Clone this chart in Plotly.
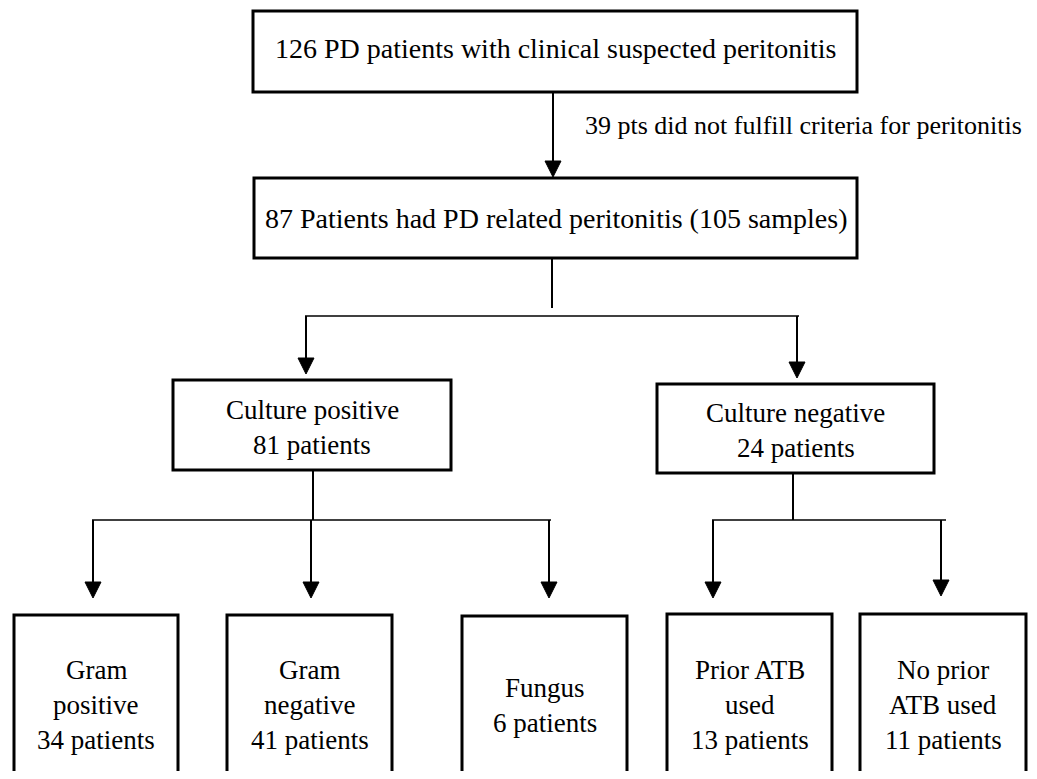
import plotly.graph_objects as go

screened_count = 126
excluded_count = 39
included_patients = 87
included_samples = 105

level2_names = ["Culture positive", "Culture negative"]
level2_counts = [81, 24]

level3_names = [["Gram", "positive"], ["Gram", "negative"], ["Fungus"],
                ["Prior ATB", "used"], ["No prior", "ATB used"]]
level3_counts = [34, 41, 6, 13, 11]

# ---------------- layout geometry (page pixels, y downwards) ----------------
W, H = 1037, 779
PAGE_MARGIN = 8  # default body margin of the html page
FONT = "Liberation Serif, Times New Roman, serif"
FS = 27
FS_TOP = 28
FS_SIDE = 26
LINE_H = 35

top_box = (253, 857, 11, 92)
mid_box = (254, 857, 178, 258)
l2_boxes = [(173, 451, 380, 470), (657, 934, 384, 473)]
l3_boxes = [(14, 178, 615, 800), (227, 392, 615, 800), (462, 627, 616, 800),
            (667, 832, 614, 800), (860, 1026, 614, 800)]
l3_text_center = 705

shapes = []
annotations = []


def box(b):
    x0, x1, y0, y1 = b
    shapes.append(dict(type="rect", xref="x", yref="y", x0=x0, x1=x1, y0=y0, y1=y1,
                       line=dict(color="black", width=3), fillcolor="white", layer="above"))


def line(x0, y0, x1, y1, w=2):
    shapes.append(dict(type="line", xref="x", yref="y", x0=x0, y0=y0, x1=x1, y1=y1,
                       line=dict(color="black", width=w)))


def arrow(x, y0, ytip, hw=8, hl=16):
    line(x, y0, x, ytip - hl + 2)
    shapes.append(dict(type="path", xref="x", yref="y",
                       path=f"M {x-hw},{ytip-hl} L {x+hw},{ytip-hl} L {x},{ytip} Z",
                       fillcolor="black", line=dict(color="black", width=1)))


def text_lines(lines, cx, cy, anchor="center", size=FS):
    n = len(lines)
    for i, t in enumerate(lines):
        y = cy + (i - (n - 1) / 2) * LINE_H
        annotations.append(dict(x=cx, y=y, xref="x", yref="y", text=t, showarrow=False,
                                xanchor=anchor, yanchor="middle",
                                font=dict(family=FONT, size=size, color="black")))


def center(b):
    return (b[0] + b[1]) / 2, (b[2] + b[3]) / 2


# boxes
box(top_box)
box(mid_box)
for b in l2_boxes:
    box(b)
for b in l3_boxes:
    box(b)

# texts
cx, cy = center(top_box)
text_lines([f"{screened_count} PD patients with clinical suspected peritonitis"],
           cx, cy - 3, size=FS_TOP)
cx, cy = center(mid_box)
text_lines([f"{included_patients} Patients had PD related peritonitis ({included_samples} samples)"],
           cx, cy, size=FS_TOP)
text_lines([f"{excluded_count} pts did not fulfill criteria for peritonitis"], 583, 125,
           anchor="left", size=FS_SIDE)
for name, cnt, b in zip(level2_names, level2_counts, l2_boxes):
    cx, cy = center(b)
    text_lines([name, f"{cnt} patients"], cx, cy + 2)
for name, cnt, b in zip(level3_names, level3_counts, l3_boxes):
    cx = (b[0] + b[1]) / 2
    text_lines(name + [f"{cnt} patients"], cx, l3_text_center)

# connectors
arrow(553, top_box[3], mid_box[2] - 1)
line(552, mid_box[3], 552, 308)
line(305, 316, 799, 316, 1.6)
arrow(306, 316, 374)
arrow(797, 316, 378)

# culture positive branch
line(313, l2_boxes[0][3], 313, 520)
line(92, 520, 551, 520, 1.6)
for x in [93, 311, 549]:
    arrow(x, 520, 598)

# culture negative branch
line(793, l2_boxes[1][3], 793, 520)
line(712, 520, 946, 520, 1.6)
arrow(713, 520, 598)
arrow(941, 520, 596)

fig = go.Figure()
fig.update_layout(
    width=W - 2 * PAGE_MARGIN, height=H - 2 * PAGE_MARGIN,
    margin=dict(l=0, r=0, t=0, b=0),
    paper_bgcolor="white", plot_bgcolor="white",
    xaxis=dict(range=[PAGE_MARGIN, W - PAGE_MARGIN], visible=False, fixedrange=True),
    yaxis=dict(range=[H - PAGE_MARGIN, PAGE_MARGIN], visible=False, fixedrange=True),
    shapes=shapes, annotations=annotations, showlegend=False,
)
fig.write_html("out.html")
